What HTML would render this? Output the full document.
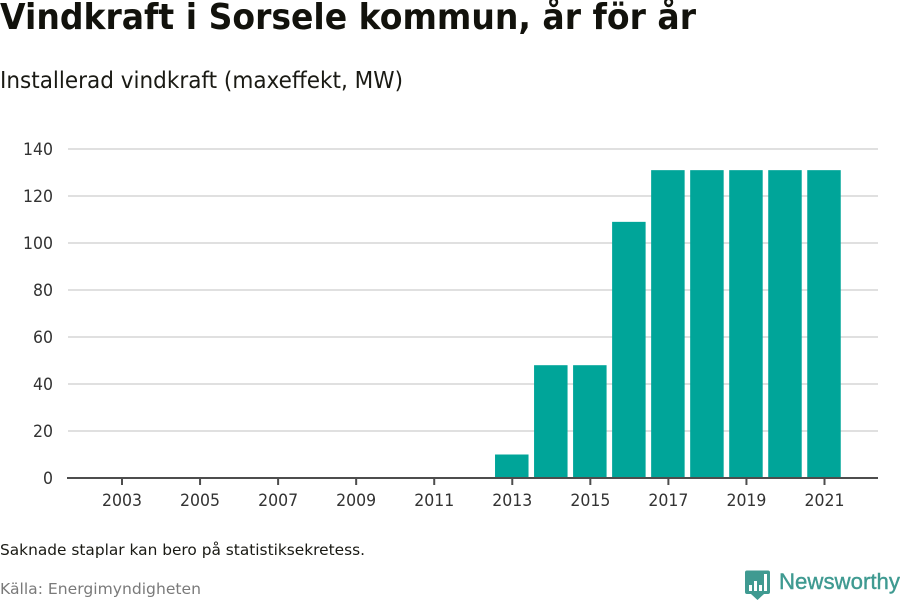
<!DOCTYPE html>
<html lang="sv">
<head>
<meta charset="utf-8">
<title>Vindkraft i Sorsele kommun</title>
<style>
html,body{margin:0;padding:0;background:#fff;width:900px;height:600px;overflow:hidden}
svg{display:block;font-family:"DejaVu Sans","Liberation Sans",sans-serif}
</style>
</head>
<body>
<svg id="chart" width="900" height="600" viewBox="0 0 900 600" xmlns="http://www.w3.org/2000/svg">
  <text x="0" y="29" font-size="36" font-weight="700" fill="#12120c" textLength="696" lengthAdjust="spacingAndGlyphs">Vindkraft i Sorsele kommun, år för år</text>
  <text x="0" y="88" font-size="23" fill="#1a1a14" textLength="403" lengthAdjust="spacingAndGlyphs">Installerad vindkraft (maxeffekt, MW)</text>
  <g id="grid"></g>
  <g id="bars"></g>
  <g id="axes"></g>
  <text x="0" y="555" font-size="15" fill="#1a1a14" textLength="365" lengthAdjust="spacingAndGlyphs">Saknade staplar kan bero på statistiksekretess.</text>
  <text x="0" y="594" font-size="15.500" fill="#7a7a7a" textLength="201" lengthAdjust="spacingAndGlyphs">Källa: Energimyndigheten</text>
  <g>
    <path d="M747 570.500H768a2 2 0 0 1 2 2V592a2 2 0 0 1-2 2H764L757.500 600L751 594H747a2 2 0 0 1-2-2V572.500a2 2 0 0 1 2-2Z" fill="#3f9a91"/>
    <rect x="749" y="585" width="3" height="6" fill="#fff"/>
    <rect x="754" y="581" width="3" height="10" fill="#fff"/>
    <rect x="759" y="585" width="3" height="6" fill="#fff"/>
    <rect x="764" y="574" width="3" height="17" fill="#fff"/>
    <text x="779" y="589" font-family="'Liberation Sans',sans-serif" font-size="22" fill="#3f9a91" stroke="#3f9a91" stroke-width="0.400" textLength="121" lengthAdjust="spacingAndGlyphs">Newsworthy</text>
  </g>
</svg>
<script>
const years = [2003,2004,2005,2006,2007,2008,2009,2010,2011,2012,2013,2014,2015,2016,2017,2018,2019,2020,2021];
const capacity = [null,null,null,null,null,null,null,null,null,null,10,48,48,109,131,131,131,131,131];
const yTicks = [0,20,40,60,80,100,120,140];
const xTicks = [2003,2005,2007,2009,2011,2013,2015,2017,2019,2021];

const NS = 'http://www.w3.org/2000/svg';
const xScale = year => 122 + (year - 2003) * (824.5 - 122) / 18;
const yScale = value => 478 - value * (478 - 149) / 140;
const barWidth = 33.5;

function make(tag, attrs, parent, text) {
  const el = document.createElementNS(NS, tag);
  for (const k in attrs) el.setAttribute(k, attrs[k]);
  if (text !== undefined) el.textContent = text;
  parent.appendChild(el);
  return el;
}

const grid = document.getElementById('grid');
const bars = document.getElementById('bars');
const axes = document.getElementById('axes');

yTicks.forEach(t => {
  if (t !== 0) {
    const line = make('line', {x1: 68, x2: 878, y1: yScale(t), y2: yScale(t), stroke: '#e0e0e0', 'stroke-width': 2}, grid);
    
    
  }
  const label = make('text', {x: 53, y: yScale(t) + 6, 'text-anchor': 'end', 'font-size': 17, fill: '#333', textLength: String(t).length * 10, lengthAdjust: 'spacingAndGlyphs'}, axes, t);
  
  
});

years.forEach((year, i) => {
  const v = capacity[i];
  if (v === null) return;
  const bar = make('rect', {x: xScale(year) - barWidth / 2 - 0.5, y: yScale(v), width: barWidth, height: yScale(0) - yScale(v), fill: '#00a599'}, bars);
  
  
});

const axisLine = make('line', {x1: 67, x2: 878, y1: 478, y2: 478, stroke: '#4d4d4d', 'stroke-width': 2}, axes);



xTicks.forEach(year => {
  const tick = make('line', {x1: xScale(year), x2: xScale(year), y1: 478, y2: 485, stroke: '#4d4d4d', 'stroke-width': 2}, axes);
  
  
  const label = make('text', {x: xScale(year), y: 506, 'text-anchor': 'middle', 'font-size': 17, fill: '#333', textLength: 40, lengthAdjust: 'spacingAndGlyphs'}, axes, year);
  
  
});
</script>
</body>
</html>
